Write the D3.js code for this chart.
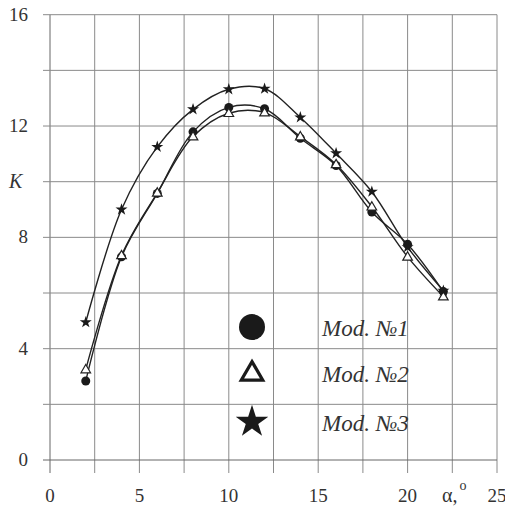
<!DOCTYPE html>
<html>
<head>
<meta charset="utf-8">
<script src="https://cdn.jsdelivr.net/npm/d3@7"></script>
<style>
  body { margin: 0; background: #fff; }
</style>
</head>
<body>
<svg id="chart" width="505" height="509"></svg>
<script>
// data
const alpha = [2, 4, 6, 8, 10, 12, 14, 16, 18, 20, 22];
const mod1 = [2.84, 7.3, 9.58, 11.79, 12.67, 12.62, 11.56, 10.58, 8.91, 7.75, 6.05];
const mod2 = [3.25, 7.35, 9.6, 11.62, 12.46, 12.48, 11.62, 10.62, 9.1, 7.3, 5.87];
const mod3 = [4.95, 9.0, 11.25, 12.6, 13.32, 13.34, 12.31, 11.02, 9.64, 7.65, 6.08];
const xTicks = [0, 5, 10, 15, 20, 25];
const yTicks = [0, 4, 8, 12, 16];
const legendLabels = ["Mod. №1", "Mod. №2", "Mod. №3"];

const serif = "'Liberation Serif', 'Times New Roman', Tinos, 'DejaVu Serif', serif";

const svg = d3.select('#chart').attr('font-family', serif);
const x = d3.scaleLinear().domain([0, 25]).range([50, 497]);
const y = d3.scaleLinear().domain([0, 16]).range([460, 14.7]);

// grid, lines run a little past the frame on the left and bottom
const grid = svg.append('g').attr('stroke-width', 1);
d3.range(0, 25.01, 2.5).forEach(v => {
    grid.append('line')
        .attr('x1', x(v)).attr('x2', x(v))
        .attr('y1', y(16)).attr('y2', 473)
        .attr('stroke', v === 0 ? '#666' : '#8a8a8a');
});
d3.range(0, 16.01, 2).forEach(v => {
    grid.append('line')
        .attr('x1', 43).attr('x2', x(25))
        .attr('y1', y(v)).attr('y2', y(v))
        .attr('stroke', v === 0 ? '#666' : '#8a8a8a');
});

// tick labels
svg.selectAll('.ytick').data(yTicks).enter().append('text')
    .attr('x', 28).attr('y', d => y(d) + 6)
    .attr('text-anchor', 'end')
    .attr('font-size', 19).attr('fill', '#333')
    .text(d => d);
svg.selectAll('.xtick').data(xTicks).enter().append('text')
    .attr('x', d => x(d)).attr('y', 502)
    .attr('text-anchor', 'middle')
    .attr('font-size', 19).attr('fill', '#333')
    .text(d => d);

svg.append('text').attr('x', 9).attr('y', y(10) + 6).attr('fill', '#333')
    .attr('font-size', 20).attr('font-style', 'italic').text('K');
const al = svg.append('text').attr('x', 442).attr('y', 502).attr('font-size', 20).attr('fill', '#333');
al.append('tspan').text('α,');
al.append('tspan').attr('dy', -12).attr('dx', 2).attr('font-size', 14).text('o');

// curves
const line = d3.line()
    .x((d, i) => x(alpha[i]))
    .y(d => y(d))
    .curve(d3.curveCatmullRom.alpha(0.5));

[mod1, mod2, mod3].forEach(s => {
    svg.append('path').datum(s)
        .attr('d', line)
        .attr('fill', 'none')
        .attr('stroke', '#222')
        .attr('stroke-width', 1.4);
});

const star = d3.symbol().type(d3.symbolStar);
const tri = d3.symbol().type(d3.symbolTriangle);

// markers
svg.selectAll('.m1').data(mod1).enter().append('circle')
    .attr('cx', (d, i) => x(alpha[i])).attr('cy', d => y(d))
    .attr('r', 4.5).attr('fill', '#1a1a1a');
svg.selectAll('.m2').data(mod2).enter().append('path')
    .attr('transform', (d, i) => `translate(${x(alpha[i])},${y(d) + 0.5})`)
    .attr('d', tri.size(40)())
    .attr('fill', '#fff').attr('stroke', '#222').attr('stroke-width', 1.2);
svg.selectAll('.m3').data(mod3).enter().append('path')
    .attr('transform', (d, i) => `translate(${x(alpha[i])},${y(d)})`)
    .attr('d', star.size(45)())
    .attr('fill', '#1a1a1a');

// legend
const legY = [327, 373, 422];
svg.append('circle').attr('cx', 252).attr('cy', legY[0]).attr('r', 13).attr('fill', '#1a1a1a');
svg.append('path').attr('transform', `translate(252,${legY[1] + 1})`)
    .attr('d', tri.size(200)())
    .attr('fill', '#fff').attr('stroke', '#1a1a1a').attr('stroke-width', 3.2);
svg.append('path').attr('transform', `translate(252,${legY[2]})`)
    .attr('d', star.size(330)())
    .attr('fill', '#1a1a1a');
svg.selectAll('.leg').data(legendLabels).enter().append('text')
    .attr('x', 322).attr('y', (d, i) => legY[i] + 9)
    .attr('font-size', 23).attr('font-style', 'italic')
    .attr('fill', '#333')
    .text(d => d);
</script>
</body>
</html>
